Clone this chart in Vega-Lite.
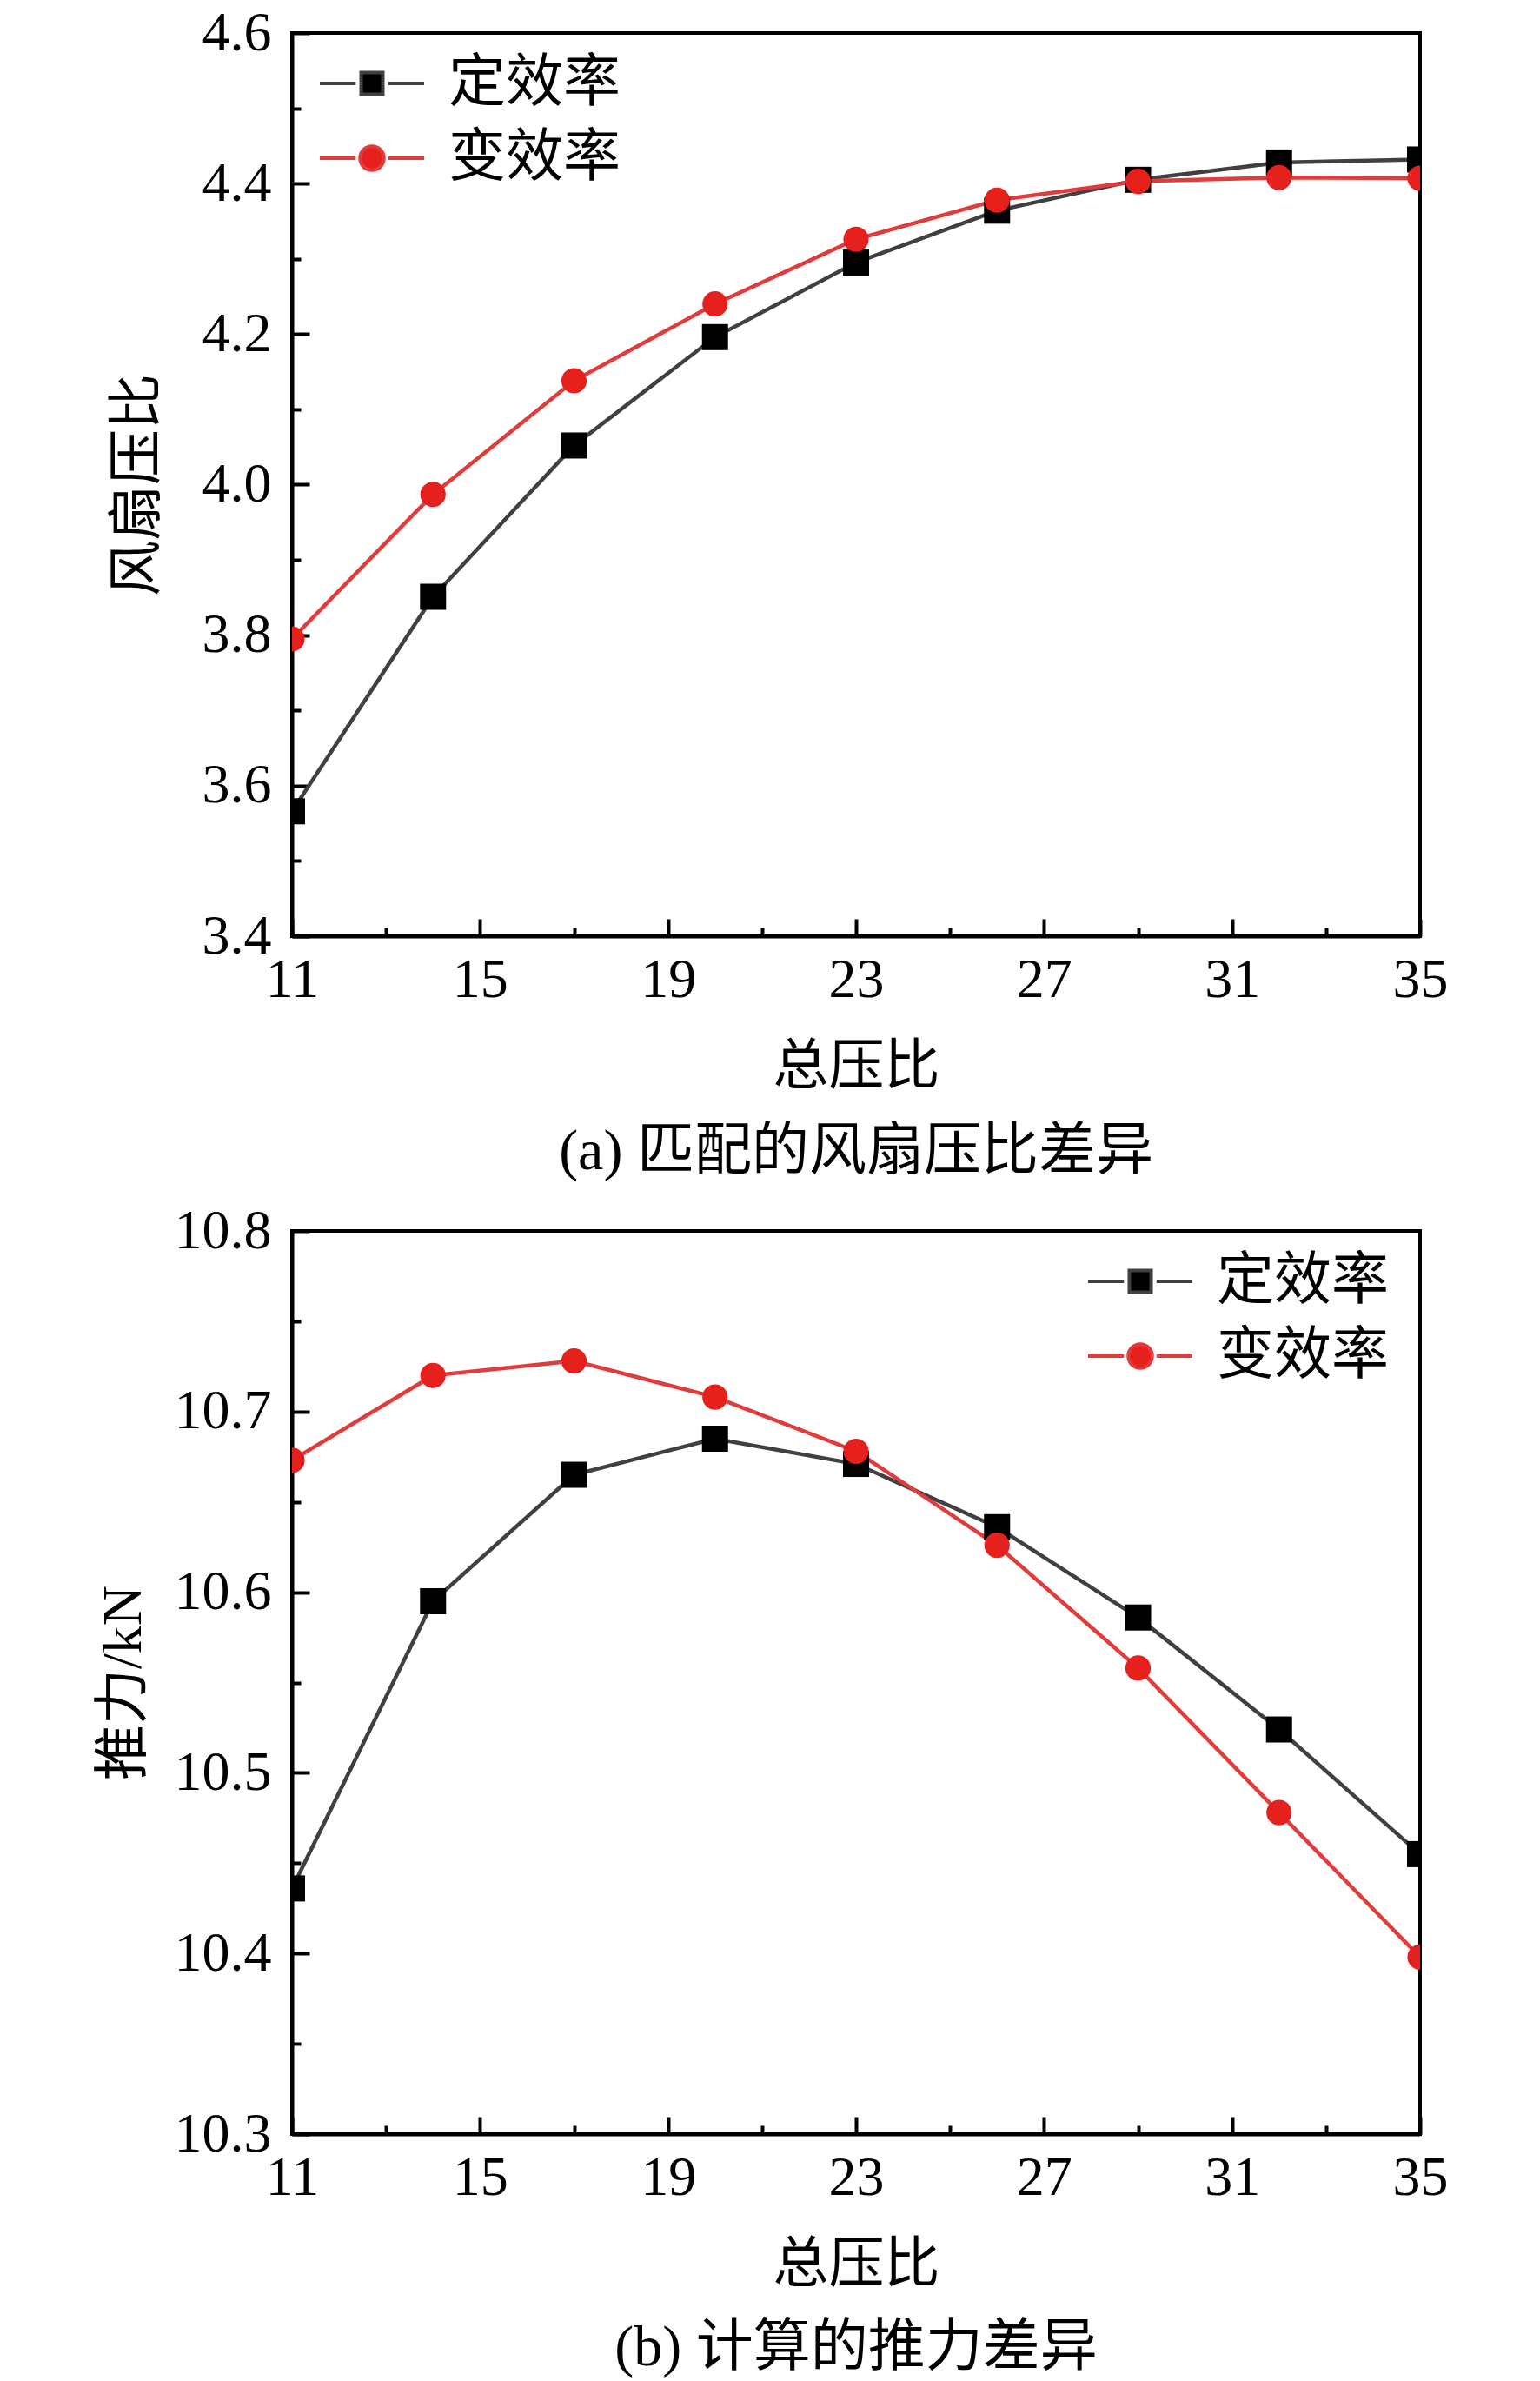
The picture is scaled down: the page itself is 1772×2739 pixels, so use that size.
{
  "$schema": "https://vega.github.io/schema/vega-lite/v6.json",
  "padding": {"left": 108, "top": 4, "right": 0, "bottom": 0},
  "background": "white",
  "datasets": {
    "fan": [
      {"x": 11, "y": 3.566, "s": "定效率"},
      {"x": 14, "y": 3.851, "s": "定效率"},
      {"x": 17, "y": 4.052, "s": "定效率"},
      {"x": 20, "y": 4.196, "s": "定效率"},
      {"x": 23, "y": 4.295, "s": "定效率"},
      {"x": 26, "y": 4.364, "s": "定效率"},
      {"x": 29, "y": 4.405, "s": "定效率"},
      {"x": 32, "y": 4.428, "s": "定效率"},
      {"x": 35, "y": 4.432, "s": "定效率"},
      {"x": 11, "y": 3.795, "s": "变效率"},
      {"x": 14, "y": 3.987, "s": "变效率"},
      {"x": 17, "y": 4.138, "s": "变效率"},
      {"x": 20, "y": 4.240, "s": "变效率"},
      {"x": 23, "y": 4.326, "s": "变效率"},
      {"x": 26, "y": 4.378, "s": "变效率"},
      {"x": 29, "y": 4.403, "s": "变效率"},
      {"x": 32, "y": 4.408, "s": "变效率"},
      {"x": 35, "y": 4.407, "s": "变效率"}
    ],
    "thrust": [
      {"x": 11, "y": 10.436, "s": "定效率"},
      {"x": 14, "y": 10.595, "s": "定效率"},
      {"x": 17, "y": 10.665, "s": "定效率"},
      {"x": 20, "y": 10.685, "s": "定效率"},
      {"x": 23, "y": 10.671, "s": "定效率"},
      {"x": 26, "y": 10.636, "s": "定效率"},
      {"x": 29, "y": 10.586, "s": "定效率"},
      {"x": 32, "y": 10.524, "s": "定效率"},
      {"x": 35, "y": 10.455, "s": "定效率"},
      {"x": 11, "y": 10.673, "s": "变效率"},
      {"x": 14, "y": 10.720, "s": "变效率"},
      {"x": 17, "y": 10.728, "s": "变效率"},
      {"x": 20, "y": 10.708, "s": "变效率"},
      {"x": 23, "y": 10.678, "s": "变效率"},
      {"x": 26, "y": 10.626, "s": "变效率"},
      {"x": 29, "y": 10.558, "s": "变效率"},
      {"x": 32, "y": 10.478, "s": "变效率"},
      {"x": 35, "y": 10.398, "s": "变效率"}
    ]
  },
  "spacing": 22,
  "vconcat": [
    {
      "width": 1298,
      "height": 1039,
      "data": {"name": "fan"},
      "title": {"text": "(a) 匹配的风扇压比差异", "orient": "bottom", "offset": 34},
      "resolve": {"legend": {"shape": "independent", "fill": "independent", "stroke": "independent"}},
      "encoding": {
        "x": {
          "field": "x",
          "type": "quantitative",
          "scale": {"domain": [11, 35], "nice": false, "zero": false},
          "axis": {
            "title": "总压比",
            "values": [11, 13, 15, 17, 19, 21, 23, 25, 27, 29, 31, 33, 35],
            "labelExpr": "datum.value % 4 == 3 ? datum.label : ''",
            "tickSize": {"condition": {"test": "datum.value % 4 == 3", "value": -20}, "value": -10},
            "labelPadding": 38,
            "titlePadding": 26
          }
        },
        "y": {
          "field": "y",
          "type": "quantitative",
          "scale": {"domain": [3.4, 4.6], "nice": false, "zero": false},
          "axis": {
            "title": "风扇压比",
            "values": [3.4, 3.5, 3.6, 3.7, 3.8, 3.9, 4.0, 4.1, 4.2, 4.3, 4.4, 4.5, 4.6],
            "labelExpr": "round(datum.value * 10) % 2 == 0 ? format(datum.value, '.1f') : ''",
            "tickSize": {"condition": {"test": "round(datum.value * 10) % 2 == 0", "value": -20}, "value": -10},
            "labelPadding": 44,
            "titlePadding": 42
          }
        }
      },
      "layer": [
        {
          "mark": {"type": "line", "strokeWidth": 4.5, "clip": true},
          "encoding": {
            "stroke": {"field": "s", "type": "nominal", "scale": {"domain": ["定效率", "变效率"], "range": ["#404040", "#e03c3c"]}, "legend": null}
          }
        },
        {
          "transform": [{"filter": "datum.s === '定效率'"}],
          "mark": {"type": "point", "shape": "square", "filled": true, "opacity": 1, "size": 900, "clip": true},
          "encoding": {
            "fill": {"field": "s", "type": "nominal", "scale": {"domain": ["定效率", "变效率"], "range": ["#000000", "#e5201d"]}, "legend": null}
          }
        },
        {
          "transform": [{"filter": "datum.s === '变效率'"}],
          "mark": {"type": "point", "shape": "circle", "filled": true, "opacity": 1, "size": 850, "clip": true},
          "encoding": {
            "fill": {"field": "s", "type": "nominal", "scale": {"domain": ["定效率", "变效率"], "range": ["#000000", "#e5201d"]}, "legend": null}
          }
        },
        {
          "transform": [{"filter": "false"}],
          "mark": {"type": "point", "filled": true, "opacity": 1},
          "encoding": {
            "shape": {"field": "s", "type": "nominal", "scale": {"domain": ["定效率", "变效率"], "range": ["M-4.8,0H-1.5M1.5,0H4.8M-1,-1H1V1H-1Z", "M1.1,0A1.1,1.1 0 1,1 -1.1,0A1.1,1.1 0 1,1 1.1,0ZM-4.8,0H-1.5M1.5,0H4.8"]},
              "legend": {"title": null, "orient": "none", "legendX": 59, "legendY": 25, "rowPadding": 20, "labelOffset": 55}},
            "fill": {"field": "s", "type": "nominal", "scale": {"domain": ["定效率", "变效率"], "range": ["#000000", "#e5201d"]},
              "legend": {"title": null, "orient": "none", "legendX": 59, "legendY": 25, "rowPadding": 20, "labelOffset": 55}},
            "stroke": {"field": "s", "type": "nominal", "scale": {"domain": ["定效率", "变效率"], "range": ["#404040", "#e03c3c"]},
              "legend": {"title": null, "orient": "none", "legendX": 59, "legendY": 25, "rowPadding": 20, "labelOffset": 55}}
          }
        }
      ]
    },
    {
      "width": 1298,
      "height": 1039,
      "data": {"name": "thrust"},
      "title": {"text": "(b) 计算的推力差异", "orient": "bottom", "offset": 32},
      "resolve": {"legend": {"shape": "independent", "fill": "independent", "stroke": "independent"}},
      "encoding": {
        "x": {
          "field": "x",
          "type": "quantitative",
          "scale": {"domain": [11, 35], "nice": false, "zero": false},
          "axis": {
            "title": "总压比",
            "values": [11, 13, 15, 17, 19, 21, 23, 25, 27, 29, 31, 33, 35],
            "labelExpr": "datum.value % 4 == 3 ? datum.label : ''",
            "tickSize": {"condition": {"test": "datum.value % 4 == 3", "value": -20}, "value": -10},
            "labelPadding": 38,
            "titlePadding": 26
          }
        },
        "y": {
          "field": "y",
          "type": "quantitative",
          "scale": {"domain": [10.3, 10.8], "nice": false, "zero": false},
          "axis": {
            "title": "推力/kN",
            "values": [10.3, 10.35, 10.4, 10.45, 10.5, 10.55, 10.6, 10.65, 10.7, 10.75, 10.8],
            "labelExpr": "round(datum.value * 100) % 10 == 0 ? format(datum.value, '.1f') : ''",
            "tickSize": {"condition": {"test": "round(datum.value * 100) % 10 == 0", "value": -20}, "value": -10},
            "labelPadding": 44,
            "titlePadding": 26
          }
        }
      },
      "layer": [
        {
          "mark": {"type": "line", "strokeWidth": 4.5, "clip": true},
          "encoding": {
            "stroke": {"field": "s", "type": "nominal", "scale": {"domain": ["定效率", "变效率"], "range": ["#404040", "#e03c3c"]}, "legend": null}
          }
        },
        {
          "transform": [{"filter": "datum.s === '定效率'"}],
          "mark": {"type": "point", "shape": "square", "filled": true, "opacity": 1, "size": 900, "clip": true},
          "encoding": {
            "fill": {"field": "s", "type": "nominal", "scale": {"domain": ["定效率", "变效率"], "range": ["#000000", "#e5201d"]}, "legend": null}
          }
        },
        {
          "transform": [{"filter": "datum.s === '变效率'"}],
          "mark": {"type": "point", "shape": "circle", "filled": true, "opacity": 1, "size": 850, "clip": true},
          "encoding": {
            "fill": {"field": "s", "type": "nominal", "scale": {"domain": ["定效率", "变效率"], "range": ["#000000", "#e5201d"]}, "legend": null}
          }
        },
        {
          "transform": [{"filter": "false"}],
          "mark": {"type": "point", "filled": true, "opacity": 1},
          "encoding": {
            "shape": {"field": "s", "type": "nominal", "scale": {"domain": ["定效率", "变效率"], "range": ["M-4.8,0H-1.5M1.5,0H4.8M-1,-1H1V1H-1Z", "M1.1,0A1.1,1.1 0 1,1 -1.1,0A1.1,1.1 0 1,1 1.1,0ZM-4.8,0H-1.5M1.5,0H4.8"]},
              "legend": {"title": null, "orient": "none", "legendX": 943, "legendY": 25, "rowPadding": 20, "labelOffset": 55}},
            "fill": {"field": "s", "type": "nominal", "scale": {"domain": ["定效率", "变效率"], "range": ["#000000", "#e5201d"]},
              "legend": {"title": null, "orient": "none", "legendX": 943, "legendY": 25, "rowPadding": 20, "labelOffset": 55}},
            "stroke": {"field": "s", "type": "nominal", "scale": {"domain": ["定效率", "变效率"], "range": ["#404040", "#e03c3c"]},
              "legend": {"title": null, "orient": "none", "legendX": 943, "legendY": 25, "rowPadding": 20, "labelOffset": 55}}
          }
        }
      ]
    }
  ],
  "config": {
    "view": {"stroke": "black", "strokeWidth": 4},
    "font": "Liberation Serif, Noto Sans CJK SC",
    "axis": {
      "grid": false,
      "domainColor": "black",
      "domainWidth": 4,
      "tickColor": "black",
      "tickWidth": 4,
      "labelFont": "Liberation Serif",
      "labelFontSize": 64,
      "labelColor": "black",
      "labelOverlap": false,
      "labelFlush": false,
      "titleFont": "Liberation Serif, Noto Sans CJK SC",
      "titleFontSize": 64,
      "titleFontWeight": "normal",
      "titleColor": "black"
    },
    "legend": {
      "labelFont": "Noto Sans CJK SC",
      "labelFontSize": 66,
      "labelColor": "black",
      "labelLimit": 0,
      "symbolSize": 625,
      "symbolStrokeWidth": 4,
      "symbolOpacity": 1,
      "padding": 0
    },
    "title": {
      "font": "Liberation Serif, Noto Sans CJK SC",
      "fontSize": 66,
      "fontWeight": "normal",
      "color": "black",
      "anchor": "middle"
    }
  }
}
